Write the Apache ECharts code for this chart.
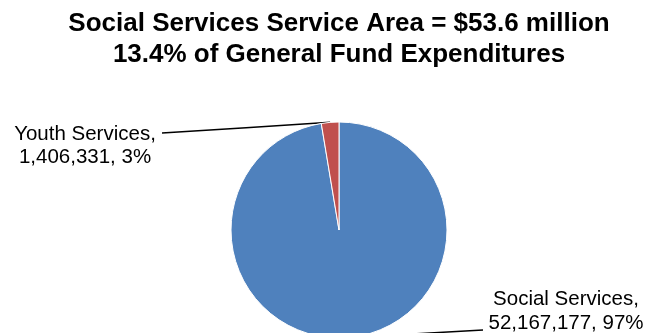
<!DOCTYPE html>
<html>
<head>
<meta charset="utf-8">
<script src="https://cdn.jsdelivr.net/npm/echarts@6/dist/echarts.min.js"></script>
<style>
html,body{margin:0;padding:0;background:#fff;}
#chart{width:645px;height:333px;}
</style>
</head>
<body>
<div id="chart"></div>
<script>
var titleLines = ['Social Services Service Area = $53.6 million', '13.4% of General Fund Expenditures'];
var categories = ['Social Services', 'Youth Services'];
var values = [52167177, 1406331];
var percents = ['97%', '3%'];
var colors = ['#4F81BD', '#C0504D'];
// label placement (text block centre) and leader end point
var labelPos = [[566, 311.5], [85, 146]];
var lineEnd = [[483, 330], [162, 133]];

var chart = echarts.init(document.getElementById('chart'), null, {renderer: 'canvas'});
var data = categories.map(function (c, i) {
  return {name: c, value: values[i], itemStyle: {color: colors[i]}};
});
function fmt(n) { return n.toString().replace(/\B(?=(\d{3})+(?!\d))/g, ','); }

chart.setOption({
  animation: false,
  backgroundColor: '#ffffff',
  title: {
    text: titleLines.join('\n'),
    left: 339,
    top: 8,
    padding: 0,
    textAlign: 'center',
    textStyle: {
      fontFamily: 'Liberation Sans, Arial, sans-serif',
      fontSize: 26,
      fontWeight: 'bold',
      color: '#000',
      lineHeight: 31
    }
  },
  series: [{
    type: 'pie',
    center: [339, 230],
    radius: 108,
    startAngle: 90,
    clockwise: true,
    data: data,
    itemStyle: {borderColor: '#ffffff', borderWidth: 1},
    label: {
      show: true,
      position: 'outside',
      formatter: function (p) {
        return p.name + ',\n' + fmt(p.value) + ', ' + percents[p.dataIndex];
      },
      fontFamily: 'Liberation Sans, Arial, sans-serif',
      fontSize: 20.5,
      lineHeight: 23.5,
      color: '#000',
      align: 'center'
    },
    labelLine: {
      show: true,
      lineStyle: {color: '#000', width: 1.5}
    },
    labelLayout: function (params) {
      var i = params.dataIndex;
      var pts = params.labelLinePoints;
      var start = pts ? pts[0] : lineEnd[i];
      var end = lineEnd[i];
      return {
        x: labelPos[i][0],
        y: labelPos[i][1],
        align: 'center',
        verticalAlign: 'middle',
        labelLinePoints: [start, [(start[0] + end[0]) / 2, (start[1] + end[1]) / 2], end]
      };
    },
    emphasis: {disabled: true}
  }]
});
</script>
</body>
</html>
